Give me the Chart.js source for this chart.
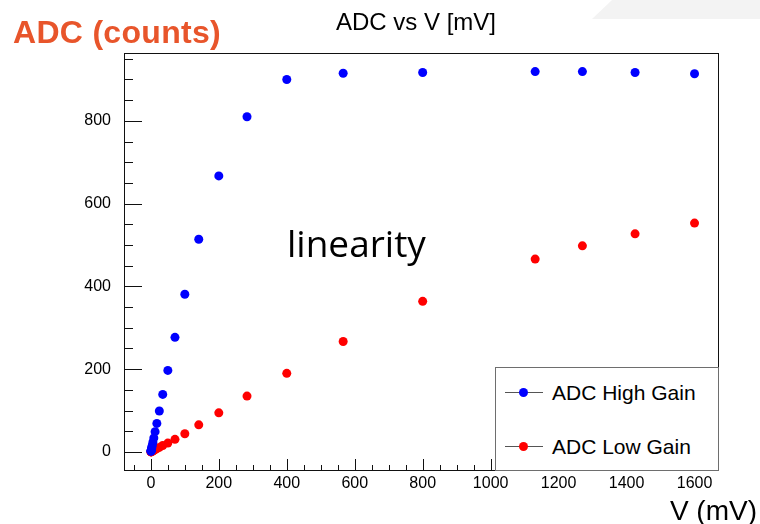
<!DOCTYPE html>
<html>
<head>
<meta charset="utf-8">
<title>ADC vs V [mV]</title>
<script src="https://cdn.jsdelivr.net/npm/chart.js@4.4.1/dist/chart.umd.min.js"></script>
<style>
  body { margin: 0; background: #fff; }
  #wrap { position: relative; width: 760px; height: 524px; overflow: hidden; font-family: "Liberation Sans", Arial, sans-serif; }
  #chart { position: absolute; left: 0; top: 0; }
  .txt { position: absolute; white-space: nowrap; line-height: 1; color: #000; }
  #corner { position: absolute; left: 592px; top: 0; width: 168px; height: 19px; background: #f3f3f3;
            clip-path: polygon(20px 0, 100% 0, 100% 100%, 0 100%); }
  #title { left: 296px; top: 10px; width: 240px; text-align: center; font-size: 24px; }
  #ytitle { left: 13px; top: 16px; font-size: 32px; font-weight: bold; color: #e8552b; letter-spacing: 0.3px; }
  #xtitle { right: 3px; top: 497px; font-size: 28px; }
  #note { left: 287px; top: 224px; font-family: "Open Sans", sans-serif; font-size: 37px; }
  #legend { position: absolute; left: 495px; top: 367px; width: 224px; height: 104px; box-sizing: border-box;
            border: 1.5px solid #6e6e6e; background: #fff; }
  .leg-line { position: absolute; height: 1px; width: 38px; background: #555; }
  .leg-dot { position: absolute; width: 9px; height: 9px; border-radius: 50%; }
  .leg-text { position: absolute; font-size: 21px; line-height: 1; white-space: nowrap; }
</style>
</head>
<body>
<div id="wrap">
  <div id="corner"></div>
  <canvas id="chart" width="760" height="524"></canvas>
  <div class="txt" id="title">ADC vs V [mV]</div>
  <div class="txt" id="ytitle">ADC (counts)</div>
  <div class="txt" id="xtitle">V (mV)</div>
  <div class="txt" id="note">linearity</div>
  <div id="legend"></div>
</div>
<script>
// valori
const voltages = [0.4, 0.55, 0.8, 1.1, 1.6, 2.2, 3.1, 4.4, 6.25, 8.8, 12.5, 17.7, 25, 35, 50, 71,
                  100, 141, 200, 283, 400, 566, 800, 1131, 1270, 1425, 1600];
const adcHigh = [1.6, 2.1, 3.1, 4.3, 6.2, 8.6, 12, 17, 24, 34, 49, 69, 99, 139, 197, 277,
                 381, 514, 667, 810, 900, 915, 917, 919, 919, 917, 914];
const adcLow = [0.2, 0.25, 0.4, 0.5, 0.7, 1, 1.4, 2, 2.8, 4, 5.6, 8, 11, 15.5, 21.5, 30.5,
                44, 65.5, 94.5, 135, 190, 267, 364, 466, 498, 527, 553];
const seriesLabels = ['ADC High Gain', 'ADC Low Gain'];
const seriesColors = ['#0000ff', '#ff0000'];
const xTickValues = [0, 200, 400, 600, 800, 1000, 1200, 1400, 1600];
const yTickValues = [0, 200, 400, 600, 800];

const MINOR_STEP = 50;

Chart.defaults.font.family = '"Liberation Sans", Arial, sans-serif';
Chart.defaults.color = '#000';

// cornice e tacche interne stile ROOT
const framePlugin = {
    id: 'frame',
    beforeDatasetsDraw(chart) {
        const { ctx, chartArea: a, scales } = chart;
        ctx.save();
        ctx.strokeStyle = '#111';
        ctx.lineWidth = 1;
        ctx.strokeRect(a.left + 0.5, a.top + 0.5, a.right - a.left - 1, a.bottom - a.top - 1);

        ctx.beginPath();
        const xs = scales.x;
        for (let v = Math.ceil(xs.min / MINOR_STEP) * MINOR_STEP; v <= xs.max; v += MINOR_STEP) {
            const px = Math.round(xs.getPixelForValue(v)) + 0.5;
            const len = xTickValues.includes(v) ? 12 : 6;
            ctx.moveTo(px, a.bottom);
            ctx.lineTo(px, a.bottom - len);
        }
        const ys = scales.y;
        for (let v = Math.ceil(ys.min / MINOR_STEP) * MINOR_STEP; v <= ys.max; v += MINOR_STEP) {
            const py = Math.round(ys.getPixelForValue(v)) + 0.5;
            const len = yTickValues.includes(v) ? 18 : 9;
            ctx.moveTo(a.left, py);
            ctx.lineTo(a.left + len, py);
        }
        ctx.stroke();
        ctx.restore();
    }
};

function makeSeries(values) {
    return voltages.map((v, i) => ({ x: v, y: values[i] }));
}

const plainLabel = v => String(v);

const chart = new Chart(document.getElementById('chart'), {
    type: 'scatter',
    data: {
        datasets: [
            {
                label: seriesLabels[0],
                data: makeSeries(adcHigh),
                backgroundColor: seriesColors[0],
                borderColor: seriesColors[0],
                pointRadius: 4.5,
                pointBorderWidth: 0
            },
            {
                label: seriesLabels[1],
                data: makeSeries(adcLow),
                backgroundColor: seriesColors[1],
                borderColor: seriesColors[1],
                pointRadius: 4.5,
                pointBorderWidth: 0
            }
        ]
    },
    options: {
        responsive: false,
        animation: false,
        devicePixelRatio: 1,
        layout: { padding: { top: 53, right: 41, left: 0, bottom: 0 } },
        plugins: {
            legend: { display: false },
            tooltip: { enabled: false }
        },
        scales: {
            x: {
                type: 'linear',
                min: -79,
                max: 1672,
                grid: { display: false },
                border: { display: false },
                afterBuildTicks: s => { s.ticks = xTickValues.map(v => ({ value: v })); },
                afterFit: s => { s.height = 53; },
                ticks: { padding: -5, maxRotation: 0, autoSkip: false, font: { size: 16 }, callback: plainLabel }
            },
            y: {
                type: 'linear',
                min: -46,
                max: 964,
                grid: { display: false },
                border: { display: false },
                afterBuildTicks: s => { s.ticks = yTickValues.map(v => ({ value: v })); },
                afterFit: s => { s.width = 124; },
                ticks: { padding: 5, autoSkip: false, font: { size: 16 }, callback: plainLabel }
            }
        }
    },
    plugins: [framePlugin]
});

// legenda dentro il riquadro, come nel grafico ROOT
const legend = document.getElementById('legend');
const rowCenters = [24, 78];
chart.data.datasets.forEach((ds, i) => {
    const cy = rowCenters[i];
    const line = document.createElement('div');
    line.className = 'leg-line';
    line.style.left = '9px';
    line.style.top = cy + 'px';
    const dot = document.createElement('div');
    dot.className = 'leg-dot';
    dot.style.left = '23px';
    dot.style.top = (cy - 4) + 'px';
    dot.style.background = ds.backgroundColor;
    const text = document.createElement('div');
    text.className = 'leg-text';
    text.style.left = '56px';
    text.style.top = (cy - 10) + 'px';
    text.textContent = ds.label;
    legend.append(line, dot, text);
});
</script>
</body>
</html>
